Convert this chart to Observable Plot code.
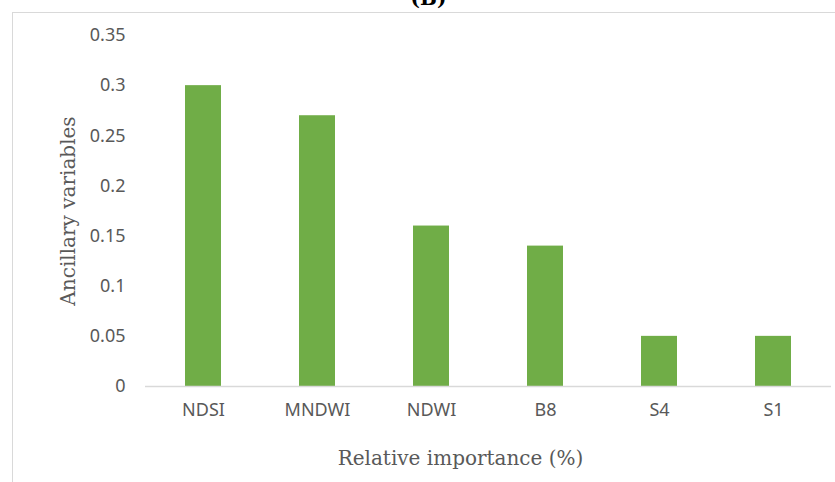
<!DOCTYPE html>
<html>
<head>
<meta charset="utf-8">
<script src="https://cdn.jsdelivr.net/npm/d3@7"></script>
<script src="https://cdn.jsdelivr.net/npm/@observablehq/plot@0.6"></script>
<style>
  html, body { margin: 0; padding: 0; background: #fff; overflow: hidden; }
  #wrap { position: relative; width: 835px; height: 482px; }
  #border { position: absolute; left: 12px; top: 12px; right: -2px; bottom: -2px;
            border-left: 1px solid #d9d9d9; border-top: 1px solid #d9d9d9; pointer-events: none; }
</style>
</head>
<body>
<div id="wrap"><div id="border"></div></div>
<script>
const categories = ["NDSI", "MNDWI", "NDWI", "B8", "S4", "S1"];
const values = [0.30, 0.27, 0.16, 0.14, 0.05, 0.05];
const yTicks = [0, 0.05, 0.1, 0.15, 0.2, 0.25, 0.3, 0.35];
const yTickLabels = ["0", "0.05", "0.1", "0.15", "0.2", "0.25", "0.3", "0.35"];
const title = "(B)";
const xTitle = "Relative importance (%)";
const yTitle = "Ancillary variables";

const data = categories.map((c, i) => ({category: c, value: values[i]}));
const serif = "'DejaVu Serif', serif";

const chart = Plot.plot({
  width: 835,
  height: 482,
  marginLeft: 145,
  marginRight: 4,
  marginTop: 35,
  marginBottom: 96,
  style: {fontFamily: "'Noto Sans', sans-serif", fontSize: "18px", color: "#595959", background: "transparent", overflow: "visible"},
  x: {domain: categories, paddingInner: 0.685, paddingOuter: 0.3425, label: null, tickSize: 0, tickPadding: 17},
  y: {domain: [0, 0.35], ticks: yTicks, tickFormat: (d) => yTickLabels[yTicks.indexOf(d)], label: null, tickSize: 0, tickPadding: 20},
  marks: [
    Plot.barY(data, {x: "category", y: "value", fill: "#70AD47"}),
    Plot.ruleY([0], {stroke: "#d9d9d9", strokeWidth: 1.5}),
    Plot.text([yTitle], {frameAnchor: "left", textAnchor: "middle", lineAnchor: "middle", rotate: -90, dx: -77, fontFamily: serif, fontSize: 20, fill: "#595959"}),
    Plot.text([xTitle], {frameAnchor: "bottom", textAnchor: "middle", lineAnchor: "middle", dy: 72, dx: -28, fontFamily: serif, fontSize: 20, fill: "#595959"}),
    Plot.text([title], {frameAnchor: "top", textAnchor: "middle", lineAnchor: "middle", dy: -37, dx: -60, fontFamily: serif, fontWeight: "bold", fontSize: 20, fill: "#000"})
  ]
});
document.getElementById("wrap").prepend(chart);
</script>
</body>
</html>
